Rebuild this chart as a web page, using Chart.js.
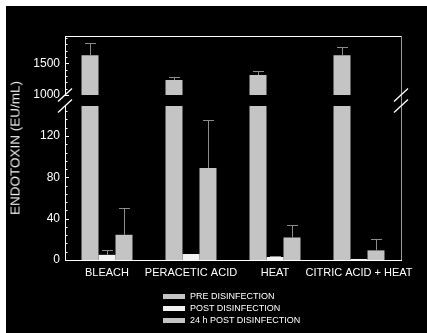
<!DOCTYPE html>
<html>
<head>
<meta charset="utf-8">
<script src="https://cdn.jsdelivr.net/npm/chart.js@4.4.0/dist/chart.umd.min.js"></script>
<style>
  html, body { margin: 0; padding: 0; background: #fff; }
  #panel { position: absolute; left: 6px; top: 6px; width: 421px; height: 327px; background: #000; overflow: hidden; font-family: "Liberation Sans", Arial, sans-serif; color: #fff; }
  #chart { position: absolute; left: 0; top: 0; }
  #yTitle { position: absolute; left: 9px; top: 142px; transform: translate(-50%, -50%) rotate(-90deg); white-space: nowrap; font-size: 13.5px; font-weight: 400; color: #ececec; }
  #legend { position: absolute; left: 157px; top: 285px; font-size: 9px; line-height: 11.8px; }
  #legend div { display: flex; align-items: center; white-space: nowrap; }
  #legend span.box { display: inline-block; width: 22px; height: 5px; margin-right: 5px; }
</style>
</head>
<body>
<div id="panel">
  <canvas id="chart" width="421" height="327"></canvas>
  <div id="yTitle">ENDOTOXIN (EU/mL)</div>
  <div id="legend"></div>
</div>
<script>
// categories and series
const categories = ["BLEACH", "PERACETIC ACID", "HEAT", "CITRIC ACID + HEAT"];
const seriesNames = ["PRE DISINFECTION", "POST DISINFECTION", "24 h POST DISINFECTION"];
const seriesColors = ["#c4c4c4", "#f2f2f2", "#c4c4c4"];

const preValues = [1626, 1237, 1315, 1626];
const preErrors = [200, 52, 59, 131];
const postValues = [5, 5.8, 2.9, 1];
const postErrors = [5, 0, 0.6, 0];
const h24Values = [24.4, 89, 21.8, 9.3];
const h24Errors = [25.6, 46.5, 11.6, 11.3];

// broken axis ranges and tick labels
const topRange = [1000, 1930];
const bottomRange = [0, 149];
const topTickLabels = [1000, 1500];
const bottomTickLabels = [0, 40, 80, 120];
const topMinorStep = 100;
const bottomMinorStep = 8;

function minorTicks(min, max, step) {
  const out = [];
  for (let v = min; v <= max; v += step) out.push({ value: v });
  return out;
}

const clampBottom = arr => arr.map(v => Math.min(v, bottomRange[1]));

const tickFont = { family: "'Liberation Sans', Arial, sans-serif", size: 12 };

// draws the inward tick marks on both y segments
const tickMarks = {
  id: "tickMarks",
  afterDraw(chart) {
    const ctx = chart.ctx;
    ctx.save();
    ctx.strokeStyle = "#ffffff";
    ctx.lineWidth = 1;
    [["yTop", topTickLabels], ["yBottom", bottomTickLabels]].forEach(([id, majors]) => {
      const s = chart.scales[id];
      s.ticks.forEach(t => {
        const y = Math.round(s.getPixelForValue(t.value)) + 0.5;
        const len = majors.includes(t.value) ? 4 : 2.5;
        ctx.beginPath();
        ctx.moveTo(s.right, y);
        ctx.lineTo(s.right + len, y);
        ctx.stroke();
      });
    });
    ctx.restore();
  }
};

// frame lines and axis break marks
const frame = {
  id: "frame",
  afterDraw(chart) {
    const ctx = chart.ctx;
    const area = chart.chartArea;
    const yTop = chart.scales.yTop;
    const yBottom = chart.scales.yBottom;
    ctx.save();
    ctx.lineWidth = 1;
    ctx.strokeStyle = "#ffffff";
    ctx.beginPath();
    ctx.moveTo(area.left, area.top + 0.5);
    ctx.lineTo(area.right, area.top + 0.5);
    ctx.stroke();
    ctx.strokeStyle = "#9a9a9a";
    ctx.beginPath();
    ctx.moveTo(area.right + 0.5, area.top);
    ctx.lineTo(area.right + 0.5, area.bottom);
    ctx.stroke();
    ctx.strokeStyle = "#ffffff";
    ctx.lineWidth = 1.3;
    [area.left, area.right].forEach(x => {
      [yTop.bottom, yBottom.top].forEach(y => {
        ctx.beginPath();
        ctx.moveTo(x - 7, y + 6.5);
        ctx.lineTo(x + 7, y - 6.5);
        ctx.stroke();
      });
    });
    ctx.restore();
  }
};

// upward error bars
const errorBars = {
  id: "errorBars",
  afterDatasetsDraw(chart) {
    const ctx = chart.ctx;
    const sets = [
      { ds: 3, scale: "yTop", values: preValues, errors: preErrors },
      { ds: 1, scale: "yBottom", values: postValues, errors: postErrors },
      { ds: 2, scale: "yBottom", values: h24Values, errors: h24Errors }
    ];
    ctx.save();
    ctx.strokeStyle = "#8c8c8c";
    ctx.lineWidth = 1;
    sets.forEach(set => {
      const meta = chart.getDatasetMeta(set.ds);
      const s = chart.scales[set.scale];
      meta.data.forEach((bar, i) => {
        if (!set.errors[i]) return;
        const x = Math.round(bar.x) + 0.5;
        const y0 = s.getPixelForValue(set.values[i]);
        const y1 = Math.round(s.getPixelForValue(set.values[i] + set.errors[i])) + 0.5;
        ctx.beginPath();
        ctx.moveTo(x, y0);
        ctx.lineTo(x, y1);
        ctx.moveTo(x - 5.5, y1);
        ctx.lineTo(x + 5.5, y1);
        ctx.stroke();
      });
    });
    ctx.restore();
  }
};

// html legend
const legendEl = document.getElementById("legend");
seriesNames.forEach((name, i) => {
  const row = document.createElement("div");
  row.innerHTML = '<span class="box" style="background:' + seriesColors[i] + '"></span>' + name;
  legendEl.appendChild(row);
});

const barOpts = { borderWidth: 0, categoryPercentage: 0.607, barPercentage: 1 };

new Chart(document.getElementById("chart"), {
  type: "bar",
  data: {
    labels: categories,
    datasets: [
      { label: seriesNames[0], data: clampBottom(preValues), backgroundColor: seriesColors[0], yAxisID: "yBottom", stack: "a", ...barOpts },
      { label: seriesNames[1], data: clampBottom(postValues), backgroundColor: seriesColors[1], yAxisID: "yBottom", stack: "b", ...barOpts },
      { label: seriesNames[2], data: clampBottom(h24Values), backgroundColor: seriesColors[2], yAxisID: "yBottom", stack: "c", ...barOpts },
      { label: seriesNames[0], data: preValues, backgroundColor: seriesColors[0], yAxisID: "yTop", stack: "a", ...barOpts }
    ]
  },
  options: {
    responsive: false,
    animation: false,
    devicePixelRatio: 1,
    layout: { padding: { left: 0, right: 26, top: 30, bottom: 0 } },
    plugins: { legend: { display: false }, tooltip: { enabled: false } },
    scales: {
      x: {
        grid: { display: false, drawTicks: false },
        border: { color: "#ffffff", width: 1 },
        ticks: { color: "#ffffff", font: { family: tickFont.family, size: 11 }, padding: 6, maxRotation: 0, autoSkip: false },
        afterFit: s => { s.height = 73; }
      },
      yBottom: {
        type: "linear", position: "left", stack: "y", stackWeight: 154, stacked: false,
        min: bottomRange[0], max: bottomRange[1],
        afterBuildTicks: s => { s.ticks = minorTicks(bottomRange[0], bottomRange[1], bottomMinorStep); },
        ticks: { color: "#ffffff", font: tickFont, padding: 5, autoSkip: false, callback: v => bottomTickLabels.includes(v) ? v : "" },
        grid: { display: false, drawTicks: false },
        border: { color: "#ffffff", width: 1 },
        afterFit: s => { s.width = 59; }
      },
      yGap: {
        type: "linear", position: "left", stack: "y", stackWeight: 11,
        ticks: { display: false },
        grid: { display: false, drawTicks: false },
        border: { display: false },
        afterFit: s => { s.width = 59; }
      },
      yTop: {
        type: "linear", position: "left", stack: "y", stackWeight: 59, stacked: false,
        min: topRange[0], max: topRange[1],
        afterBuildTicks: s => { s.ticks = minorTicks(topRange[0], topRange[1], topMinorStep); },
        ticks: { color: "#ffffff", font: tickFont, padding: 5, autoSkip: false, callback: v => topTickLabels.includes(v) ? v : "" },
        grid: { display: false, drawTicks: false },
        border: { color: "#ffffff", width: 1 },
        afterFit: s => { s.width = 59; }
      }
    }
  },
  plugins: [errorBars, tickMarks, frame]
});
</script>
</body>
</html>
